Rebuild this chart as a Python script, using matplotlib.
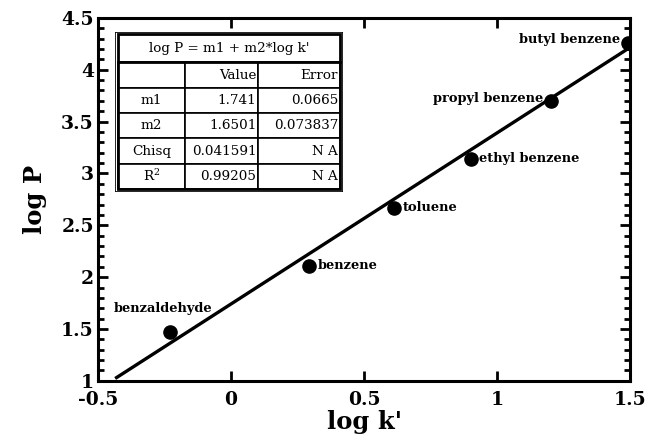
import matplotlib.pyplot as plt
from matplotlib.patches import Rectangle
from matplotlib.ticker import MultipleLocator, FormatStrFormatter
import numpy as np

# measured compounds
names = ["benzaldehyde", "benzene", "toluene", "ethyl benzene", "propyl benzene", "butyl benzene"]
log_k = [-0.229, 0.293, 0.613, 0.902, 1.203, 1.492]
log_p = [1.472, 2.109, 2.668, 3.14, 3.70, 4.26]

# fit results
m1 = 1.741
m2 = 1.6501
fit_rows = [["", "Value", "Error"],
            ["m1", "1.741", "0.0665"],
            ["m2", "1.6501", "0.073837"],
            ["Chisq", "0.041591", "N A"],
            ["R$^2$", "0.99205", "N A"]]
fit_title = "log P = m1 + m2*log k'"

serif = "DejaVu Serif"
plt.rcParams["axes.unicode_minus"] = False
plt.rcParams["mathtext.fontset"] = "dejavuserif"

fig = plt.figure(figsize=(6.53, 4.47), dpi=100)
ax = fig.add_axes([0.150, 0.148, 0.815, 0.812])

xfit = np.linspace(-0.43, 1.5, 50)
ax.plot(xfit, m1 + m2 * xfit, color="black", lw=2.4)
ax.scatter(log_k, log_p, s=90, color="black", zorder=3)

# label offsets (points)
offsets = [(-5, 17, "center"), (6, 0, "left"), (6, 0, "left"),
           (6, 0, "left"), (-6, 2, "right"), (-6, 2, "right")]
for n, x, y, (dx, dy, ha) in zip(names, log_k, log_p, offsets):
    ax.annotate(n, (x, y), xytext=(dx, dy), textcoords="offset points",
                ha=ha, va="center", fontsize=9.4, fontweight="bold", family=serif)

ax.set_xlim(-0.5, 1.5)
ax.set_ylim(1, 4.5)
ax.xaxis.set_major_locator(MultipleLocator(0.5))
ax.yaxis.set_major_locator(MultipleLocator(0.5))
ax.yaxis.set_minor_locator(MultipleLocator(0.1))
ax.xaxis.set_major_formatter(FormatStrFormatter("%g"))
ax.yaxis.set_major_formatter(FormatStrFormatter("%g"))
ax.tick_params(which="both", direction="in", top=True, right=True, width=2)
ax.tick_params(which="major", length=7, labelsize=13.5, pad=3)
ax.tick_params(axis="x", which="major", pad=7)
ax.tick_params(which="minor", length=4)
for lab in ax.get_xticklabels() + ax.get_yticklabels():
    lab.set_fontweight("bold")
    lab.set_family(serif)
for s in ax.spines.values():
    s.set_linewidth(2.2)

ax.set_xlabel("log k'", fontsize=17.5, fontweight="bold", family=serif, labelpad=1)
ax.set_ylabel("log P", fontsize=17.5, fontweight="bold", family=serif, labelpad=10)

# fit table
tx0, tx1 = 115 / 653, 343 / 653
ty_top, ty_bot = 1 - 32 / 447, 1 - 192 / 447
title_h = 28 / 447
tbl_ax = fig.add_axes([tx0, ty_bot, tx1 - tx0, ty_top - ty_bot])
tbl_ax.set_xlim(0, 1)
tbl_ax.set_ylim(0, 1)
tbl_ax.axis("off")
tbl_ax.add_patch(Rectangle((0, 0), 1, 1, facecolor="white", edgecolor="black", lw=1.2, zorder=0))
th = title_h / (ty_top - ty_bot)
tbl_ax.text(0.5, 0.985 - th / 2, fit_title, ha="center", va="center", fontsize=9.7,
            family=serif, zorder=5)
tbl = tbl_ax.table(cellText=fit_rows, bbox=[0.014, 0.018, 0.972, 0.967 - th],
                   colWidths=[0.30, 0.33, 0.37], cellLoc="right")
tbl.set_zorder(4)
tbl.auto_set_font_size(False)
for (r, c), cell in tbl.get_celld().items():
    cell.set_linewidth(1.2)
    cell.get_text().set_fontsize(9.7)
    cell.get_text().set_family(serif)
    if c == 0:
        cell.get_text().set_horizontalalignment("center")
        cell._loc = "center"
    cell.PAD = 0.02
tbl_ax.add_patch(Rectangle((0.014, 0.018), 0.972, 0.967, facecolor="none",
                           edgecolor="black", lw=2, zorder=6))
tbl_ax.plot([0.014, 0.986], [0.985 - th, 0.985 - th], color="black", lw=2, zorder=6)

fig.savefig("out.png", dpi=100)
